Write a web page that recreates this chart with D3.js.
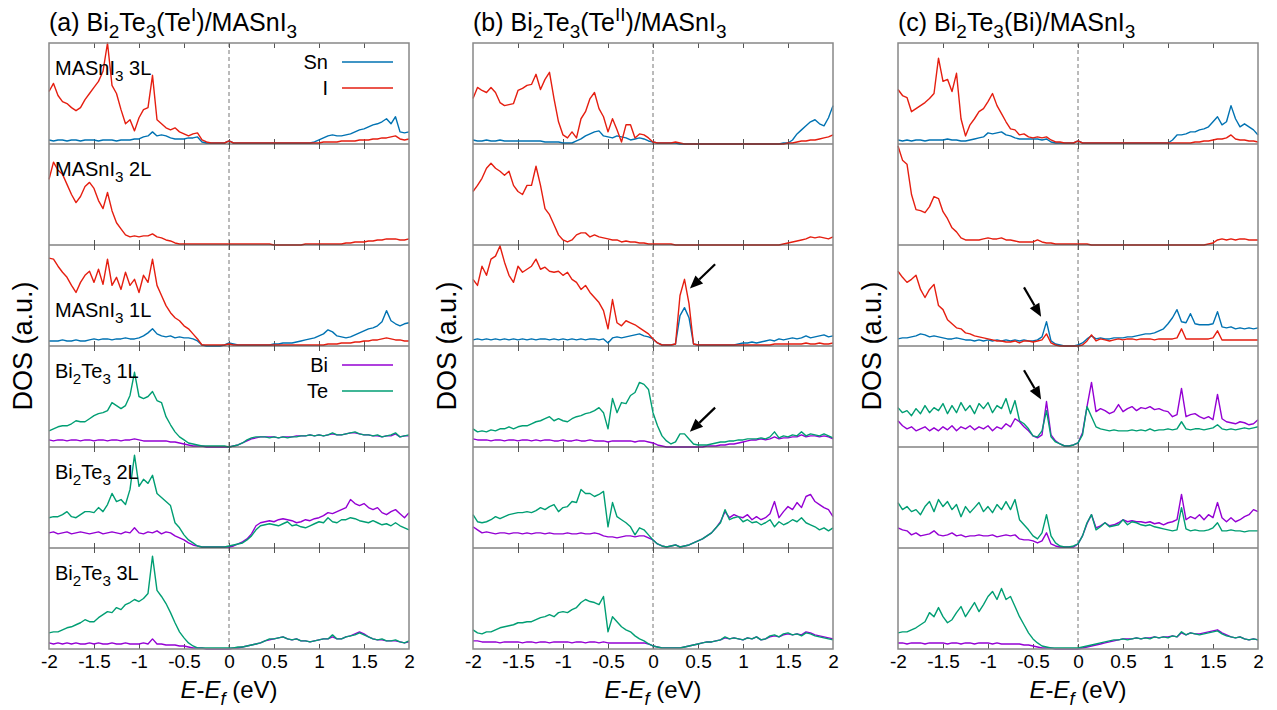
<!DOCTYPE html>
<html>
<head>
<meta charset="utf-8">
<script src="https://cdn.jsdelivr.net/npm/d3@7"></script>
<style>
  body { margin: 0; background: #fff; }
  svg { display: block; }
</style>
</head>
<body>
<div class="chart"></div>
<script>
// energy grid (eV), 0.05 eV step from -2 to 2
const energy = d3.range(81).map(i => -2 + i * 0.05);
const xTicks = [-2, -1.5, -1, -0.5, 0, 0.5, 1, 1.5, 2];
const xTickLabels = ["-2", "-1.5", "-1", "-0.5", "0", "0.5", "1", "1.5", "2"];

// ---- panel (a) Bi2Te3(TeI)/MASnI3 ----
const a1_I  = [52,60,48,42,40,36,33,36,44,50, 56,62,72,100,58,50,34,20,24,13, 26,34,36,68,24,20,16,14,16,12, 10,8,10,11,4,2,1,1,1,1, 3,1,1,1,1,1,1,1,1,1, 1,1,1,1,1,1,1,1,1,1, 1,2,2,2,2,3,3,3,3,4, 4,4,5,5,6,6,7,8,5,4, 5];
const a1_Sn = [4,3,4,4,3,4,4,3,4,4, 4,3,4,4,4,3,4,4,4,5, 5,7,8,12,8,9,8,6,5,5, 5,6,6,7,2,1,1,1,1,1, 3,1,1,1,1,1,1,1,1,1, 1,1,1,1,1,1,1,1,1,2, 4,6,8,9,8,8,9,10,12,14, 15,17,19,20,22,25,20,27,12,11, 12];
const a2_I  = [65,82,74,70,60,50,42,48,58,62, 56,44,36,52,34,22,16,10,8,9, 8,9,9,11,8,7,5,4,2,1, 1,1,1,1,1,1,1,1,1,1, 1,1,1,1,1,1,1,1,1,1, 0,0,0,0,0,0,0,1,1,1, 1,1,1,1,1,1,2,2,3,3, 3,4,4,5,5,6,6,6,5,5, 6];
const a3_I  = [87,86,79,73,68,60,53,63,70,74, 63,76,61,86,60,68,56,73,60,66, 53,70,63,86,60,50,40,33,28,25, 20,17,12,7,1,1,1,1,1,1, 2,1,1,1,1,1,1,1,1,1, 1,1,1,1,1,1,1,1,1,1, 1,1,2,2,2,3,3,3,4,4, 5,5,6,6,7,8,7,6,6,5, 5];
const a3_Sn = [5,5,5,6,5,5,6,5,5,6, 7,6,7,7,6,7,7,8,7,7, 8,10,13,17,12,10,9,10,8,9, 8,8,7,5,1,0,0,0,0,1, 3,2,1,1,1,1,1,1,1,1, 2,2,3,3,3,4,5,6,7,8, 10,12,16,14,10,9,8,9,11,13, 15,17,18,20,24,35,25,22,20,22, 23];
const a4_Te = [16,18,20,21,21,23,26,25,25,28, 31,33,34,36,44,41,38,41,51,74, 50,48,50,55,46,44,30,22,15,10, 7,4,3,2,1,1,1,1,1,1, 0,1,2,4,7,9,10,10,10,9, 10,9,10,9,10,10,11,11,12,11, 12,11,12,14,12,12,13,14,15,13, 12,12,11,12,10,11,12,14,10,11, 12];
const a4_Bi = [7,6,7,7,6,7,7,6,7,7, 6,7,7,6,7,7,6,7,7,8, 7,6,6,6,6,6,6,5,5,4, 3,2,1,1,1,0,0,0,0,0, 0,1,2,4,6,8,9,10,10,10, 10,9,10,10,10,11,11,11,12,11, 12,11,12,13,12,12,13,14,14,13, 12,12,11,11,10,11,11,13,10,11, 11];
const a5_Te = [30,31,31,33,36,31,30,33,36,36, 35,40,36,43,54,46,48,43,58,92, 61,68,64,72,54,50,46,42,25,20, 13,8,5,2,1,1,1,1,1,1, 2,3,4,5,8,12,18,22,23,24, 23,22,24,26,22,23,21,20,22,24, 26,25,30,26,25,28,28,30,29,27, 26,25,27,25,23,24,22,25,22,20, 18];
const a5_Bi = [15,16,14,15,16,14,15,16,15,14, 15,16,14,15,16,15,14,16,15,20, 15,14,16,15,17,14,16,15,12,10, 8,5,3,2,1,1,1,1,1,1, 1,2,4,6,9,14,22,25,26,27, 26,28,29,28,27,25,26,28,27,29, 30,32,35,34,36,38,40,48,44,42, 44,40,38,40,35,33,36,38,34,30, 35];
const a6_Te = [16,17,17,19,21,22,24,26,29,27, 27,31,34,37,36,41,39,44,46,49, 47,50,55,92,58,52,45,36,26,17, 11,6,3,1,1,1,1,1,1,1, 1,1,2,2,3,4,5,6,8,10, 10,11,12,10,9,10,8,8,7,8, 9,10,10,14,10,10,12,13,14,16, 14,12,10,9,10,8,8,9,7,6, 8];
const a6_Bi = [6,5,6,5,6,5,6,5,5,6, 5,6,5,5,6,5,5,6,5,5, 5,6,5,10,5,5,4,4,4,3, 3,2,1,1,1,0,0,0,0,0, 0,1,1,2,3,4,5,6,8,9, 10,11,12,10,9,10,8,8,7,8, 9,10,10,12,10,10,12,13,15,17, 15,12,10,9,9,8,8,8,7,6, 7];

// ---- panel (b) Bi2Te3(TeII)/MASnI3 ----
const b1_I  = [45,56,53,51,56,51,41,38,39,40, 53,55,58,59,69,54,64,71,45,22, 9,6,12,6,25,32,45,51,35,27, 12,25,14,2,19,19,6,10,9,6, 2,1,1,1,1,2,1,0,0,0, 0,0,0,0,0,0,0,0,0,0, 0,0,0,0,0,0,0,0,0,0, 1,1,2,3,3,4,4,5,6,7, 9];
const b1_Sn = [4,3,3,4,3,3,4,3,3,3, 3,3,3,3,3,3,2,2,2,2, 1,1,1,3,5,8,10,12,13,8, 7,6,8,7,6,4,5,6,5,3, 2,1,1,1,1,1,0,0,0,0, 0,0,0,0,0,0,0,0,0,0, 0,0,0,0,0,0,0,0,0,1, 1,4,10,14,18,22,24,20,18,26, 38];
const b2_I  = [53,59,66,76,81,76,73,69,73,59, 53,50,59,59,78,59,36,30,20,10, 5,3,5,10,12,12,8,10,8,7, 6,5,5,3,4,3,3,2,2,1, 1,1,1,1,1,0,0,0,0,0, 0,0,0,0,0,0,0,0,0,0, 0,0,0,0,0,0,0,0,0,1, 2,3,4,5,6,8,7,8,7,6, 8];
const b3_I  = [66,60,79,70,86,89,99,83,70,63, 79,73,76,79,86,76,78,74,73,74, 70,73,66,63,56,60,53,48,43,35, 17,46,23,20,25,23,21,18,15,12, 7,3,1,1,1,2,50,66,42,2, 1,1,1,1,1,1,1,1,1,1, 1,1,1,1,1,1,1,2,2,2, 2,2,2,2,3,2,2,3,2,2, 3];
const b3_Sn = [6,7,6,7,6,7,6,7,6,7, 6,7,6,7,6,7,7,6,7,6, 7,6,7,6,7,6,7,7,6,7, 3,8,9,8,9,10,11,12,10,9, 7,3,1,1,1,2,30,38,28,2, 1,1,1,1,1,1,1,1,1,2, 3,3,4,3,4,5,6,5,7,6, 7,8,7,8,10,8,9,10,11,9, 10];
const b4_Te = [18,15,16,15,17,16,18,18,20,18, 20,21,21,23,25,26,28,30,26,28, 26,25,28,30,31,33,34,36,39,34, 18,48,34,44,43,51,54,64,62,57, 34,21,11,6,3,5,13,13,8,3, 2,2,2,3,4,5,5,6,6,7, 7,8,8,8,9,8,10,15,9,11, 10,12,11,15,11,13,12,11,13,11, 9];
const b4_Bi = [8,7,7,7,6,7,7,6,7,7, 6,7,7,6,7,6,7,7,6,6, 7,6,6,7,6,6,7,6,6,6, 5,6,6,6,6,6,5,6,6,5, 4,2,1,0,0,0,0,0,0,0, 0,0,1,1,1,2,2,3,3,4, 5,6,7,7,8,7,8,10,8,9, 9,10,10,12,10,11,11,10,11,10, 8];
const b5_Te = [33,26,25,26,28,31,29,31,33,34, 35,35,36,35,37,40,38,41,43,36, 40,41,46,45,58,54,54,51,53,56, 21,45,31,28,25,21,13,20,18,13, 8,4,2,1,2,3,1,2,3,5, 7,9,12,15,20,25,38,28,30,31, 26,28,25,26,23,25,28,21,26,23, 25,28,26,30,25,23,21,18,20,17, 20];
const b5_Bi = [21,18,15,16,15,14,15,15,14,15, 15,14,15,14,15,15,14,15,14,14, 14,15,14,14,15,14,14,15,14,12, 11,11,10,11,12,12,11,12,12,10, 8,4,2,1,2,3,1,2,3,5, 7,9,12,15,20,26,36,30,33,31, 30,33,28,31,28,30,34,46,30,36, 41,38,45,40,51,53,46,43,40,38, 31];
const b6_Te = [19,16,15,17,17,19,21,22,23,24, 26,26,27,27,29,31,32,34,32,36, 37,36,39,41,46,49,47,46,44,52, 17,32,27,22,19,17,13,10,8,5, 3,2,1,1,1,1,1,2,3,4, 5,6,7,7,8,9,12,10,11,10, 9,11,10,12,9,10,13,14,12,15, 16,14,15,13,16,15,13,12,11,10, 9];
const b6_Bi = [8,8,7,7,7,7,6,7,7,7, 7,6,7,7,6,7,7,6,7,7, 7,7,6,7,7,6,7,7,6,7, 6,6,6,6,6,6,6,6,6,5, 3,2,1,1,1,1,1,2,3,4, 5,6,7,7,8,9,11,10,11,10, 9,11,10,12,9,10,12,13,12,14, 15,14,15,14,17,16,14,13,12,11, 10];

// ---- panel (c) Bi2Te3(Bi)/MASnI3 ----
const c1_I  = [54,48,46,32,35,38,41,45,50,85, 62,64,52,70,25,8,19,25,32,35, 42,50,38,30,22,15,14,9,10,7, 6,7,6,7,4,2,2,1,1,1, 3,1,1,1,1,1,1,1,1,1, 1,1,1,1,1,1,1,1,1,1, 1,1,1,1,1,1,2,2,3,3, 4,5,5,6,9,5,4,4,3,3, 2];
const c1_Sn = [4,3,4,3,4,4,3,4,4,4, 4,5,4,4,3,3,4,5,6,7, 11,10,11,12,9,8,6,5,5,5, 5,5,4,5,2,1,1,1,1,1, 3,1,1,1,1,1,1,1,1,1, 1,1,1,1,1,1,1,1,1,1, 1,4,9,9,10,12,12,14,15,17, 22,27,19,22,38,25,17,20,17,14, 9];
const c2_I  = [98,84,80,50,35,34,32,38,48,46, 33,26,17,13,7,5,5,5,5,6, 7,6,6,7,5,5,4,3,3,3, 3,5,3,2,2,1,1,1,1,1, 1,1,1,0,0,0,0,0,0,0, 0,0,0,0,0,0,0,0,0,0, 0,0,0,0,0,0,0,0,0,1, 2,5,6,5,6,5,6,6,5,5, 5];
const c3_I  = [74,68,63,66,70,56,48,56,61,40, 36,26,22,18,17,13,12,10,9,8, 7,6,5,5,4,4,5,3,5,5, 4,5,6,12,3,1,0,0,0,0, 0,1,5,11,5,7,6,5,6,7, 6,7,7,6,7,7,7,6,7,7, 7,7,8,17,7,7,7,7,7,7, 8,15,6,6,6,6,6,6,6,6, 6];
const c3_Sn = [7,8,8,9,10,12,11,9,10,9, 8,7,7,8,7,6,6,5,6,5, 6,5,6,5,6,5,6,5,6,5, 5,6,9,24,5,2,1,0,0,0, 1,3,7,10,7,8,7,7,8,8, 8,9,9,10,11,12,12,13,15,17, 22,28,36,24,23,32,22,21,21,21, 22,34,19,18,19,17,18,17,18,17, 18];
const c4_Te = [39,34,36,31,38,33,41,34,39,36, 43,33,41,34,44,36,41,33,43,38, 44,34,41,38,48,33,46,26,23,18, 11,10,16,36,10,5,3,1,1,2, 4,12,40,30,20,18,17,16,17,16, 16,16,17,16,17,16,18,16,17,17, 18,17,18,25,18,17,18,18,17,18, 19,22,18,17,18,17,18,19,18,19, 20];
const c4_Bi = [26,21,18,20,16,18,20,16,19,16, 20,17,21,16,20,18,21,17,20,18, 21,16,20,18,23,20,28,25,20,16, 11,9,12,45,12,6,3,1,1,2, 4,14,40,64,35,38,36,33,35,42, 35,38,40,36,39,38,40,37,38,36, 35,30,32,58,30,32,33,30,28,30, 27,52,28,25,24,23,25,24,22,23, 27];
const c5_Te = [45,38,41,36,38,33,41,46,36,48, 41,46,38,43,31,41,35,40,45,36, 41,35,43,38,46,38,48,28,23,18, 12,9,15,33,12,5,2,1,1,2, 4,12,25,33,18,21,25,21,22,23, 28,23,26,25,23,22,23,21,20,19, 18,17,18,40,19,17,18,17,17,18, 20,25,17,17,18,17,17,16,17,17, 17];
const c5_Bi = [20,18,17,13,15,12,13,14,17,13, 12,13,15,12,13,11,12,12,13,12, 12,13,11,12,13,12,13,9,8,8, 7,5,7,15,4,2,1,1,1,1, 4,12,24,33,20,22,25,22,23,25, 28,26,27,26,26,25,26,24,25,23, 25,26,28,53,28,31,29,33,28,33, 30,45,30,26,30,26,28,31,33,38, 36];
const c6_Te = [16,17,17,19,21,24,27,36,32,41, 32,26,29,36,42,32,39,46,37,44, 52,57,49,60,49,52,42,32,24,16, 10,6,3,2,1,1,1,1,1,1, 1,2,3,4,5,6,7,8,9,9, 10,9,10,11,10,11,10,12,11,12, 11,13,12,17,14,16,15,14,15,16, 17,18,15,13,12,11,12,10,9,10, 9];
const c6_Bi = [6,6,5,6,6,6,5,6,6,6, 6,5,6,6,5,6,6,5,6,6, 6,5,6,5,5,5,5,5,4,4, 3,2,1,1,1,0,0,0,0,0, 0,1,2,3,4,5,6,7,8,9, 10,10,10,11,10,11,11,12,11,12, 12,13,12,16,14,16,15,15,16,17, 18,19,16,14,12,11,12,10,9,10, 9];

// titles, labels (text parts: [text, kind])
const panelTitles = [
  [["(a) Bi"], ["2", "sub"], ["Te"], ["3", "sub"], ["(Te"], ["I", "sup"], [")/MASnI"], ["3", "sub"]],
  [["(b) Bi"], ["2", "sub"], ["Te"], ["3", "sub"], ["(Te"], ["II", "sup"], [")/MASnI"], ["3", "sub"]],
  [["(c) Bi"], ["2", "sub"], ["Te"], ["3", "sub"], ["(Bi)/MASnI"], ["3", "sub"]]
];
const layerLabels = [
  [["MASnI"], ["3", "sub"], [" 3L"]],
  [["MASnI"], ["3", "sub"], [" 2L"]],
  [["MASnI"], ["3", "sub"], [" 1L"]],
  [["Bi"], ["2", "sub"], ["Te"], ["3", "sub"], [" 1L"]],
  [["Bi"], ["2", "sub"], ["Te"], ["3", "sub"], [" 2L"]],
  [["Bi"], ["2", "sub"], ["Te"], ["3", "sub"], [" 3L"]]
];
const xTitle = [["E", "i"], ["-"], ["E", "i"], ["f", "isub"], [" (eV)"]];
const species = ["Sn", "I", "Bi", "Te"];
const colors = { Sn: "#0072b2", I: "#e51e10", Bi: "#9400d3", Te: "#009e73" };

// arrows: [panel, row, fromE, fromDOS, toE, toDOS]
const arrows = [
  [1, 2, 0.69, 81, 0.41, 57],
  [1, 3, 0.69, 39, 0.41, 15],
  [2, 2, -0.6, 58, -0.41, 29],
  [2, 3, -0.6, 76, -0.41, 47]
];

const panels = [
  [[["Sn", a1_Sn], ["I", a1_I]], [["I", a2_I]], [["Sn", a3_Sn], ["I", a3_I]],
   [["Bi", a4_Bi], ["Te", a4_Te]], [["Bi", a5_Bi], ["Te", a5_Te]], [["Bi", a6_Bi], ["Te", a6_Te]]],
  [[["Sn", b1_Sn], ["I", b1_I]], [["I", b2_I]], [["Sn", b3_Sn], ["I", b3_I]],
   [["Bi", b4_Bi], ["Te", b4_Te]], [["Bi", b5_Bi], ["Te", b5_Te]], [["Bi", b6_Bi], ["Te", b6_Te]]],
  [[["Sn", c1_Sn], ["I", c1_I]], [["I", c2_I]], [["Sn", c3_Sn], ["I", c3_I]],
   [["Bi", c4_Bi], ["Te", c4_Te]], [["Bi", c5_Bi], ["Te", c5_Te]], [["Bi", c6_Bi], ["Te", c6_Te]]]
];

let width = 1277, height = 710;
let FONT = "'Liberation Sans', Arial, Helvetica, sans-serif";
let panelLeft = [49, 473, 898], panelW = 360;
let plotTop = 43, plotBottom = 649;

let svg = d3.select(".chart").append("svg")
    .attr("width", width)
    .attr("height", height)
    .attr("font-family", FONT);

// text with sub/superscripts
let richText = (sel, parts, size) => {
    let shift = 0;
    sel.attr("font-size", size);
    parts.forEach(([t, kind]) => {
        let small = kind === "sub" || kind === "sup" || kind === "isub";
        let target = (kind === "sub" || kind === "isub") ? size * 0.28 : kind === "sup" ? -size * 0.4 : 0;
        let ts = sel.append("tspan")
            .attr("dy", target - shift)
            .attr("font-size", small ? size * 0.76 : size)
            .text(t);
        if (kind === "i" || kind === "isub") ts.attr("font-style", "italic");
        shift = target;
    });
};

let rowBand = d3.scaleBand()
    .domain(d3.range(6))
    .range([plotTop, plotBottom]);

panels.forEach((rows, pi) => {
    let px = panelLeft[pi];
    let x = d3.scaleLinear().domain([-2, 2]).range([px, px + panelW]);
    let g = svg.append("g");

    // panel title
    richText(g.append("text").attr("x", px).attr("y", 31), panelTitles[pi], 25);

    // y label
    g.append("text")
        .attr("transform", `translate(${px - 26},${(plotTop + plotBottom) / 2}) rotate(-90)`)
        .attr("text-anchor", "middle")
        .attr("dominant-baseline", "central")
        .attr("font-size", 27)
        .text("DOS (a.u.)");

    // zero line
    g.append("line")
        .attr("x1", x(0)).attr("x2", x(0))
        .attr("y1", plotTop).attr("y2", plotBottom)
        .attr("stroke", "#777").attr("stroke-width", 1)
        .attr("stroke-dasharray", "4,3");

    rows.forEach((series, ri) => {
        let top = rowBand(ri), bottom = top + rowBand.bandwidth();
        let y = d3.scaleLinear().domain([0, 100]).range([bottom, top]);

        // inner ticks top and bottom
        g.append("g").attr("transform", `translate(0,${bottom})`)
            .call(d3.axisBottom(x).tickValues(xTicks.slice(1, -1)).tickSize(-5).tickFormat(""))
            .call(a => a.select(".domain").remove())
            .selectAll("line").attr("stroke", "#555");
        g.append("g").attr("transform", `translate(0,${top})`)
            .call(d3.axisTop(x).tickValues(xTicks.slice(1, -1)).tickSize(-5).tickFormat(""))
            .call(a => a.select(".domain").remove())
            .selectAll("line").attr("stroke", "#555");

        let line = d3.line()
            .x((d, i) => x(energy[i]))
            .y(d => y(d));

        series.forEach(([name, vals]) => {
            if (vals.length !== energy.length) console.warn(name, pi, ri, vals.length);
            g.append("path")
                .datum(vals)
                .attr("fill", "none")
                .attr("stroke", colors[name])
                .attr("stroke-width", 1.4)
                .attr("stroke-linejoin", "round")
                .attr("d", line);
        });

        if (ri > 0) {
            g.append("line")
                .attr("x1", px).attr("x2", px + panelW)
                .attr("y1", top).attr("y2", top)
                .attr("stroke", "#444").attr("stroke-width", 1.2);
        }

        if (pi === 0) {
            richText(g.append("text")
                .attr("x", px + 6)
                .attr("y", top + (ri === 2 ? 72 : 32)), layerLabels[ri], 20);
        }

        // legend
        if (pi === 0 && (ri === 0 || ri === 3)) {
            let names = ri === 0 ? species.slice(0, 2) : species.slice(2);
            names.forEach((nm, k) => {
                let ly = top + 19 + k * 26;
                g.append("text")
                    .attr("x", px + 279).attr("y", ly)
                    .attr("text-anchor", "end")
                    .attr("dominant-baseline", "central")
                    .attr("font-size", 20)
                    .text(nm);
                g.append("line")
                    .attr("x1", px + 293).attr("x2", px + 344)
                    .attr("y1", ly).attr("y2", ly)
                    .attr("stroke", colors[nm]).attr("stroke-width", 1.5);
            });
        }
    });

    // frame
    g.append("rect")
        .attr("x", px).attr("y", plotTop)
        .attr("width", panelW).attr("height", plotBottom - plotTop)
        .attr("fill", "none").attr("stroke", "#888").attr("stroke-width", 1.5);

    // bottom tick labels
    g.append("g").attr("transform", `translate(0,${plotBottom})`)
        .call(d3.axisBottom(x).tickValues(xTicks).tickSize(0).tickPadding(6)
            .tickFormat((d, i) => xTickLabels[i]))
        .call(a => a.select(".domain").remove())
        .attr("font-family", FONT)
        .attr("font-size", 19)
        .selectAll("text").attr("fill", "#000");

    // x title
    richText(g.append("text")
        .attr("x", px + panelW / 2).attr("y", 698)
        .attr("text-anchor", "middle"), xTitle, 24);

    // arrows
    arrows.filter(a => a[0] === pi).forEach(([, ri, e1, v1, e2, v2]) => {
        let top = rowBand(ri), bottom = top + rowBand.bandwidth();
        let y = d3.scaleLinear().domain([0, 100]).range([bottom, top]);
        let x1 = x(e1), y1 = y(v1), x2 = x(e2), y2 = y(v2);
        let ang = Math.atan2(y2 - y1, x2 - x1);
        let hl = 13, hw = 5.5;
        let bx = x2 - hl * Math.cos(ang), by = y2 - hl * Math.sin(ang);
        g.append("line")
            .attr("x1", x1).attr("y1", y1).attr("x2", bx).attr("y2", by)
            .attr("stroke", "#000").attr("stroke-width", 2.2);
        g.append("path")
            .attr("d", `M${x2},${y2}L${bx + hw * Math.sin(ang)},${by - hw * Math.cos(ang)}L${bx - hw * Math.sin(ang)},${by + hw * Math.cos(ang)}Z`)
            .attr("fill", "#000");
    });
});
</script>
</body>
</html>
